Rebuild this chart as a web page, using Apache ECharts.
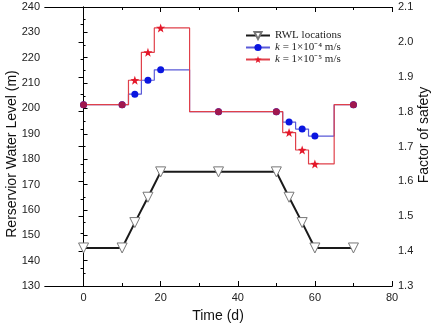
<!DOCTYPE html>
<html>
<head>
<meta charset="utf-8">
<script src="https://cdn.jsdelivr.net/npm/echarts@6/dist/echarts.min.js"></script>
<style>html,body{margin:0;padding:0;background:#fff}#c{width:432px;height:326px}</style>
</head>
<body>
<div id="c"></div>
<script>
var timeDays = [0, 10, 13.3, 16.7, 20, 35, 50, 53.3, 56.7, 60, 70];
var rwl = [145, 145, 155, 165, 175, 175, 175, 165, 155, 145, 145];
var fosK4 = [1.82, 1.82, 1.85, 1.89, 1.92, 1.80, 1.80, 1.77, 1.75, 1.73, 1.82];
var fosK5 = [1.82, 1.82, 1.89, 1.97, 2.04, 1.80, 1.80, 1.74, 1.69, 1.65, 1.82];
var xMajor = [0, 20, 40, 60, 80];
var xMinor = [10, 30, 50, 70];
var names = ['RWL locations', 'k = 1×10⁻⁴ m/s', 'k = 1×10⁻⁵ m/s'];

var STAR = 'path://M0,-10 L2.35,-3.24 L9.51,-3.09 L3.8,1.24 L5.88,8.09 L0,4 L-5.88,8.09 L-3.8,1.24 L-9.51,-3.09 L-2.35,-3.24 Z';
var PURPLE = '#a0184f';

function pairs(ys) { return timeDays.map(function (t, i) { return [t, ys[i]]; }); }
var redData = timeDays.map(function (t, i) {
  if (fosK4[i] === fosK5[i]) {
    return { value: [t, fosK5[i]], symbol: 'circle', symbolSize: 7, itemStyle: { color: PURPLE } };
  }
  return { value: [t, fosK5[i]] };
});
var blueData = pairs(fosK4);

var font = 'Liberation Sans, Arial, sans-serif';
function xAx(pos, ticks, len, labels) {
  return {
    type: 'value', position: pos, min: -10, max: 80, gridIndex: 0,
    axisLine: { show: true, onZero: false, lineStyle: { color: '#000', width: 1 } },
    axisTick: { show: true, inside: true, length: len, customValues: ticks, lineStyle: { color: '#000' } },
    axisLabel: labels ? { show: true, customValues: xMajor, color: '#222', fontSize: 11, fontFamily: font, margin: 6 } : { show: false },
    splitLine: { show: false }
  };
}

var chart = echarts.init(document.getElementById('c'), null, { renderer: 'canvas' });
chart.setOption({
  animation: false,
  backgroundColor: '#fff',
  grid: { left: 45, right: 40, top: 7, bottom: 40, containLabel: false },
  xAxis: [
    xAx('bottom', xMajor, 5, true),
    xAx('bottom', xMinor, 3, false),
    xAx('top', xMajor, 5, false),
    xAx('top', xMinor, 3, false)
  ],
  yAxis: [
    {
      type: 'value', position: 'left', min: 130, max: 240, interval: 10,
      axisLine: { show: true, lineStyle: { color: '#000' } },
      axisTick: { show: true, inside: true, length: 4, lineStyle: { color: '#000' } },
      minorTick: { show: true, splitNumber: 2, length: 2, lineStyle: { color: '#000' } },
      axisLabel: { color: '#222', fontSize: 11, fontFamily: font, margin: 5 },
      splitLine: { show: false }
    },
    {
      type: 'value', position: 'right', min: 1.3, max: 2.1, interval: 0.1,
      axisLine: { show: true, lineStyle: { color: '#000' } },
      axisTick: { show: true, inside: true, length: 5, lineStyle: { color: '#000' } },
      minorTick: { show: true, splitNumber: 2, length: 3, lineStyle: { color: '#000' } },
      axisLabel: { color: '#222', fontSize: 11, fontFamily: font, margin: 6, formatter: function (v) { return v.toFixed(1); } },
      splitLine: { show: false }
    }
  ],
  legend: {
    orient: 'vertical', left: 240, top: 25, itemWidth: 24, itemHeight: 9, itemGap: 1,
    data: names,
    formatter: function (n) {
      if (n.charAt(0) === 'k') return '{i|k}{n|' + n.slice(1) + '}';
      return '{n|' + n + '}';
    },
    textStyle: {
      rich: {
        i: { fontFamily: 'Liberation Serif, Times New Roman, serif', fontStyle: 'italic', fontSize: 11, color: '#222' },
        n: { fontFamily: 'Liberation Serif, Times New Roman, serif', fontSize: 11, color: '#222' }
      }
    }
  },
  series: [
    {
      name: names[0], type: 'line', xAxisIndex: 0, yAxisIndex: 0, data: pairs(rwl),
      symbol: 'triangle', symbolRotate: 180, symbolSize: 10,
      lineStyle: { color: '#1a1a1a', width: 2 },
      itemStyle: { color: '#fff', borderColor: '#777', borderWidth: 1 },
      z: 2
    },
    {
      name: names[1], type: 'line', xAxisIndex: 0, yAxisIndex: 1, data: blueData, step: 'middle',
      symbol: 'circle', symbolSize: 7,
      lineStyle: { color: '#5a5ad8', width: 1.2 },
      itemStyle: { color: '#0a16e0' },
      z: 3
    },
    {
      name: names[2], type: 'line', xAxisIndex: 0, yAxisIndex: 1, data: redData, step: 'middle',
      symbol: STAR, symbolSize: 9,
      lineStyle: { color: '#e0404a', width: 1.2 },
      itemStyle: { color: '#e4182a' },
      z: 4
    }
  ],
  graphic: [
    { type: 'text', x: 12, y: 154, rotation: Math.PI / 2,
      style: { text: 'Rerservior Water Level (m)', font: '14px Liberation Sans, Arial, sans-serif', fill: '#111', textAlign: 'center', textVerticalAlign: 'middle' } },
    { type: 'text', x: 424, y: 135, rotation: Math.PI / 2,
      style: { text: 'Factor of safety', font: '14px Liberation Sans, Arial, sans-serif', fill: '#111', textAlign: 'center', textVerticalAlign: 'middle' } },
    { type: 'text', x: 218, y: 316,
      style: { text: 'Time (d)', font: '14px Liberation Sans, Arial, sans-serif', fill: '#111', textAlign: 'center', textVerticalAlign: 'middle' } }
  ]
});
</script>
</body>
</html>
